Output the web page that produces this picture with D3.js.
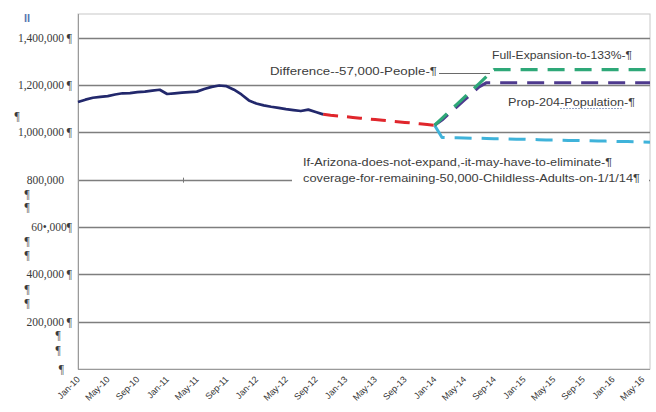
<!DOCTYPE html>
<html>
<head>
<meta charset="utf-8">
<script src="https://cdn.jsdelivr.net/npm/d3@7"></script>
<style>
body { margin: 0; background: #fff; }
</style>
</head>
<body>
<svg id="canvas" width="656" height="412"></svg>
<script>
const svg = d3.select("#canvas");
const width = 656;
const height = 412;

// monthly categories Jan-10 .. Jun-16, labels every 4 months
const monthCount = 78;
const tickLabels = ["Jan-10", "May-10", "Sep-10", "Jan-11", "May-11", "Sep-11", "Jan-12", "May-12",
    "Sep-12", "Jan-13", "May-13", "Sep-13", "Jan-14", "May-14", "Sep-14", "Jan-15", "May-15",
    "Sep-15", "Jan-16", "May-16"];

const yTickValues = [0, 200000, 400000, 600000, 800000, 1000000, 1200000, 1400000];
const yTickLabels = ["¶", "200,000 ¶", "400,000 ¶", "60•,000¶", "800,000", "1,000,000 ¶", "1,200,000 ¶", "1,400,000 ¶"];

// values in thousands, start = month index of first value
const actualStart = 0;
const actualValues = [1128, 1138, 1146, 1150, 1153, 1160, 1165, 1166, 1170, 1172, 1176, 1180,
    1162, 1165, 1168, 1170, 1172, 1183, 1192, 1198, 1195, 1180, 1160, 1135,
    1122, 1114, 1108, 1103, 1098, 1094, 1090, 1096, 1086, 1076];

const trendStart = 33;
const trendValues = [1076, 1072, 1069, 1066, 1063, 1060, 1057, 1054, 1051, 1048, 1045, 1042,
    1039, 1036, 1033, 1030];

const fullStart = 48;
const fullValues = [1030, 1059, 1089, 1118, 1148, 1177, 1206, 1236, 1265, 1265, 1265, 1265,
    1265, 1265, 1265, 1265, 1265, 1265, 1265, 1265, 1265, 1265, 1265, 1265, 1265, 1265,
    1265, 1265, 1265, 1265];

const propStart = 48;
const propValues = [1030, 1052, 1080, 1108, 1136, 1164, 1192, 1210, 1210, 1210, 1210, 1210,
    1210, 1210, 1210, 1210, 1210, 1210, 1210, 1210, 1210, 1210, 1210, 1210, 1210, 1210,
    1210, 1210, 1210, 1210];

const noExpStart = 48;
const noExpValues = [1030, 978, 977, 977, 976, 975, 975, 974, 973, 973, 972, 971, 971, 970,
    969, 968, 968, 967, 966, 966, 965, 964, 963, 963, 962, 961, 961, 960, 959, 958];

const plot = { left: 78, right: 650, top: 14, bottom: 369 };

const x = d3.scaleLinear().domain([0, monthCount - 1]).range([plot.left, plot.right]);
const y = d3.scaleLinear().domain([0, 1500000]).range([plot.bottom, plot.top]);

svg.append("rect")
    .attr("width", width)
    .attr("height", height)
    .attr("fill", "#fff");

// plot border
svg.append("rect")
    .attr("x", plot.left)
    .attr("y", plot.top)
    .attr("width", plot.right - plot.left)
    .attr("height", plot.bottom - plot.top)
    .attr("fill", "none")
    .attr("stroke", "#c8c8c8")
    .attr("stroke-width", 1);

// gridlines
svg.selectAll("line.grid")
    .data(yTickValues.slice(1))
    .enter()
    .append("line")
    .attr("class", "grid")
    .attr("x1", plot.left)
    .attr("x2", plot.right)
    .attr("y1", d => Math.round(y(d)) + 0.5)
    .attr("y2", d => Math.round(y(d)) + 0.5)
    .attr("stroke", "#7e7e7e")
    .attr("stroke-width", 1.5);

// y axis line + bottom
svg.append("line")
    .attr("x1", plot.left + 0.5).attr("x2", plot.left + 0.5)
    .attr("y1", plot.top).attr("y2", plot.bottom)
    .attr("stroke", "#9a9a9a");
svg.append("line")
    .attr("x1", plot.left).attr("x2", plot.right)
    .attr("y1", plot.bottom + 0.5).attr("y2", plot.bottom + 0.5)
    .attr("stroke", "#9a9a9a");

// small stray tick on 800,000 line
svg.append("line")
    .attr("x1", 183.5).attr("x2", 183.5)
    .attr("y1", y(800000) - 2).attr("y2", y(800000) + 3)
    .attr("stroke", "#777");

// white text box covering part of 800,000 gridline
svg.append("rect")
    .attr("x", 292)
    .attr("y", 150)
    .attr("width", plot.right - 292 - 1)
    .attr("height", 40)
    .attr("fill", "#fff");

// y labels
svg.selectAll("text.ylab")
    .data(yTickValues)
    .enter()
    .append("text")
    .attr("class", "ylab")
    .attr("x", (d, i) => yTickLabels[i] === "800,000" ? 64 : (d === 0 ? 64 : 72))
    .attr("y", d => y(d) + 4)
    .attr("text-anchor", "end")
    .attr("font-family", "Liberation Serif, serif")
    .attr("font-size", "11.5px")
    .attr("fill", "#3a3a3a")
    .text((d, i) => yTickLabels[i]);

// stray pilcrows on the left
const pilcrows = [[17, 116], [27, 194], [27, 207], [27, 241], [27, 255], [27, 289], [27, 303], [58, 335], [58, 350]];
svg.selectAll("text.pil")
    .data(pilcrows)
    .enter()
    .append("text")
    .attr("class", "pil")
    .attr("x", d => d[0])
    .attr("y", d => d[1] + 4)
    .attr("text-anchor", "middle")
    .attr("font-family", "Liberation Serif, serif")
    .attr("font-size", "11.5px")
    .attr("fill", "#3a3a3a")
    .text("¶");

svg.append("text")
    .attr("x", 24)
    .attr("y", 22)
    .attr("font-family", "Liberation Sans, sans-serif")
    .attr("font-weight", "bold")
    .attr("font-size", "11px")
    .attr("fill", "#5a78b0")
    .text("II");

// x axis labels
const xAxis = d3.axisBottom(x)
    .tickValues(tickLabels.map((d, i) => i * 4))
    .tickFormat((d, i) => tickLabels[i])
    .tickSize(0)
    .tickPadding(0);

const xg = svg.append("g")
    .attr("transform", `translate(0,${plot.bottom})`)
    .call(xAxis);
xg.select(".domain").remove();
xg.selectAll("text")
    .attr("font-family", "Liberation Sans, sans-serif")
    .attr("font-size", "9px")
    .attr("fill", "#333")
    .attr("text-anchor", "end")
    .attr("dy", null)
    .attr("y", 0)
    .attr("transform", "translate(2,11) rotate(-45)");

// series lines
const line = start => d3.line()
    .x((d, i) => x(start + i))
    .y(d => y(d * 1000));

function drawSeries(start, values, color, dash, w) {
    svg.append("path")
        .datum(values)
        .attr("d", line(start))
        .attr("fill", "none")
        .attr("stroke", color)
        .attr("stroke-width", w)
        .attr("stroke-dasharray", dash)
        .attr("stroke-linejoin", "round");
}

drawSeries(noExpStart, noExpValues, "#3fb3da", "17,10", 3);
drawSeries(propStart, propValues, "#4e3a8e", "17,10", 3);
drawSeries(fullStart, fullValues, "#2ea878", "17,10", 3.2);
drawSeries(trendStart, trendValues, "#e0262c", "15,9", 3);
drawSeries(actualStart, actualValues, "#22286c", null, 2.7);

// annotations
const notes = [
    { text: "Full-Expansion-to-133%-¶", x: 492, y: 59, w: 140 },
    { text: "Difference--57,000-People-¶", x: 270, y: 75, w: 167 },
    { text: "Prop-204-Population-¶", x: 508, y: 106, w: 127 },
    { text: "If-Arizona-does-not-expand,-it-may-have-to-eliminate-¶", x: 303, y: 166, w: 309 },
    { text: "coverage-for-remaining-50,000-Childless-Adults-on-1/1/14¶", x: 303, y: 182, w: 337 }
];

svg.selectAll("text.note")
    .data(notes)
    .enter()
    .append("text")
    .attr("class", "note")
    .attr("x", d => d.x)
    .attr("y", d => d.y)
    .attr("textLength", d => d.w)
    .attr("lengthAdjust", "spacingAndGlyphs")
    .attr("font-family", "Liberation Sans, sans-serif")
    .attr("font-size", "10.5px")
    .attr("fill", "#3c3c3c")
    .text(d => d.text);

// leader line from difference note to the expansion line
svg.append("line")
    .attr("x1", 439).attr("x2", 490)
    .attr("y1", 73.5).attr("y2", 73.5)
    .attr("stroke", "#444")
    .attr("stroke-width", 0.8);

// spell-check underline under "Population"
svg.append("line")
    .attr("x1", 560).attr("x2", 622)
    .attr("y1", 108.5).attr("y2", 108.5)
    .attr("stroke", "#7a8fb8")
    .attr("stroke-width", 0.8)
    .attr("stroke-dasharray", "2,1");
</script>
</body>
</html>
